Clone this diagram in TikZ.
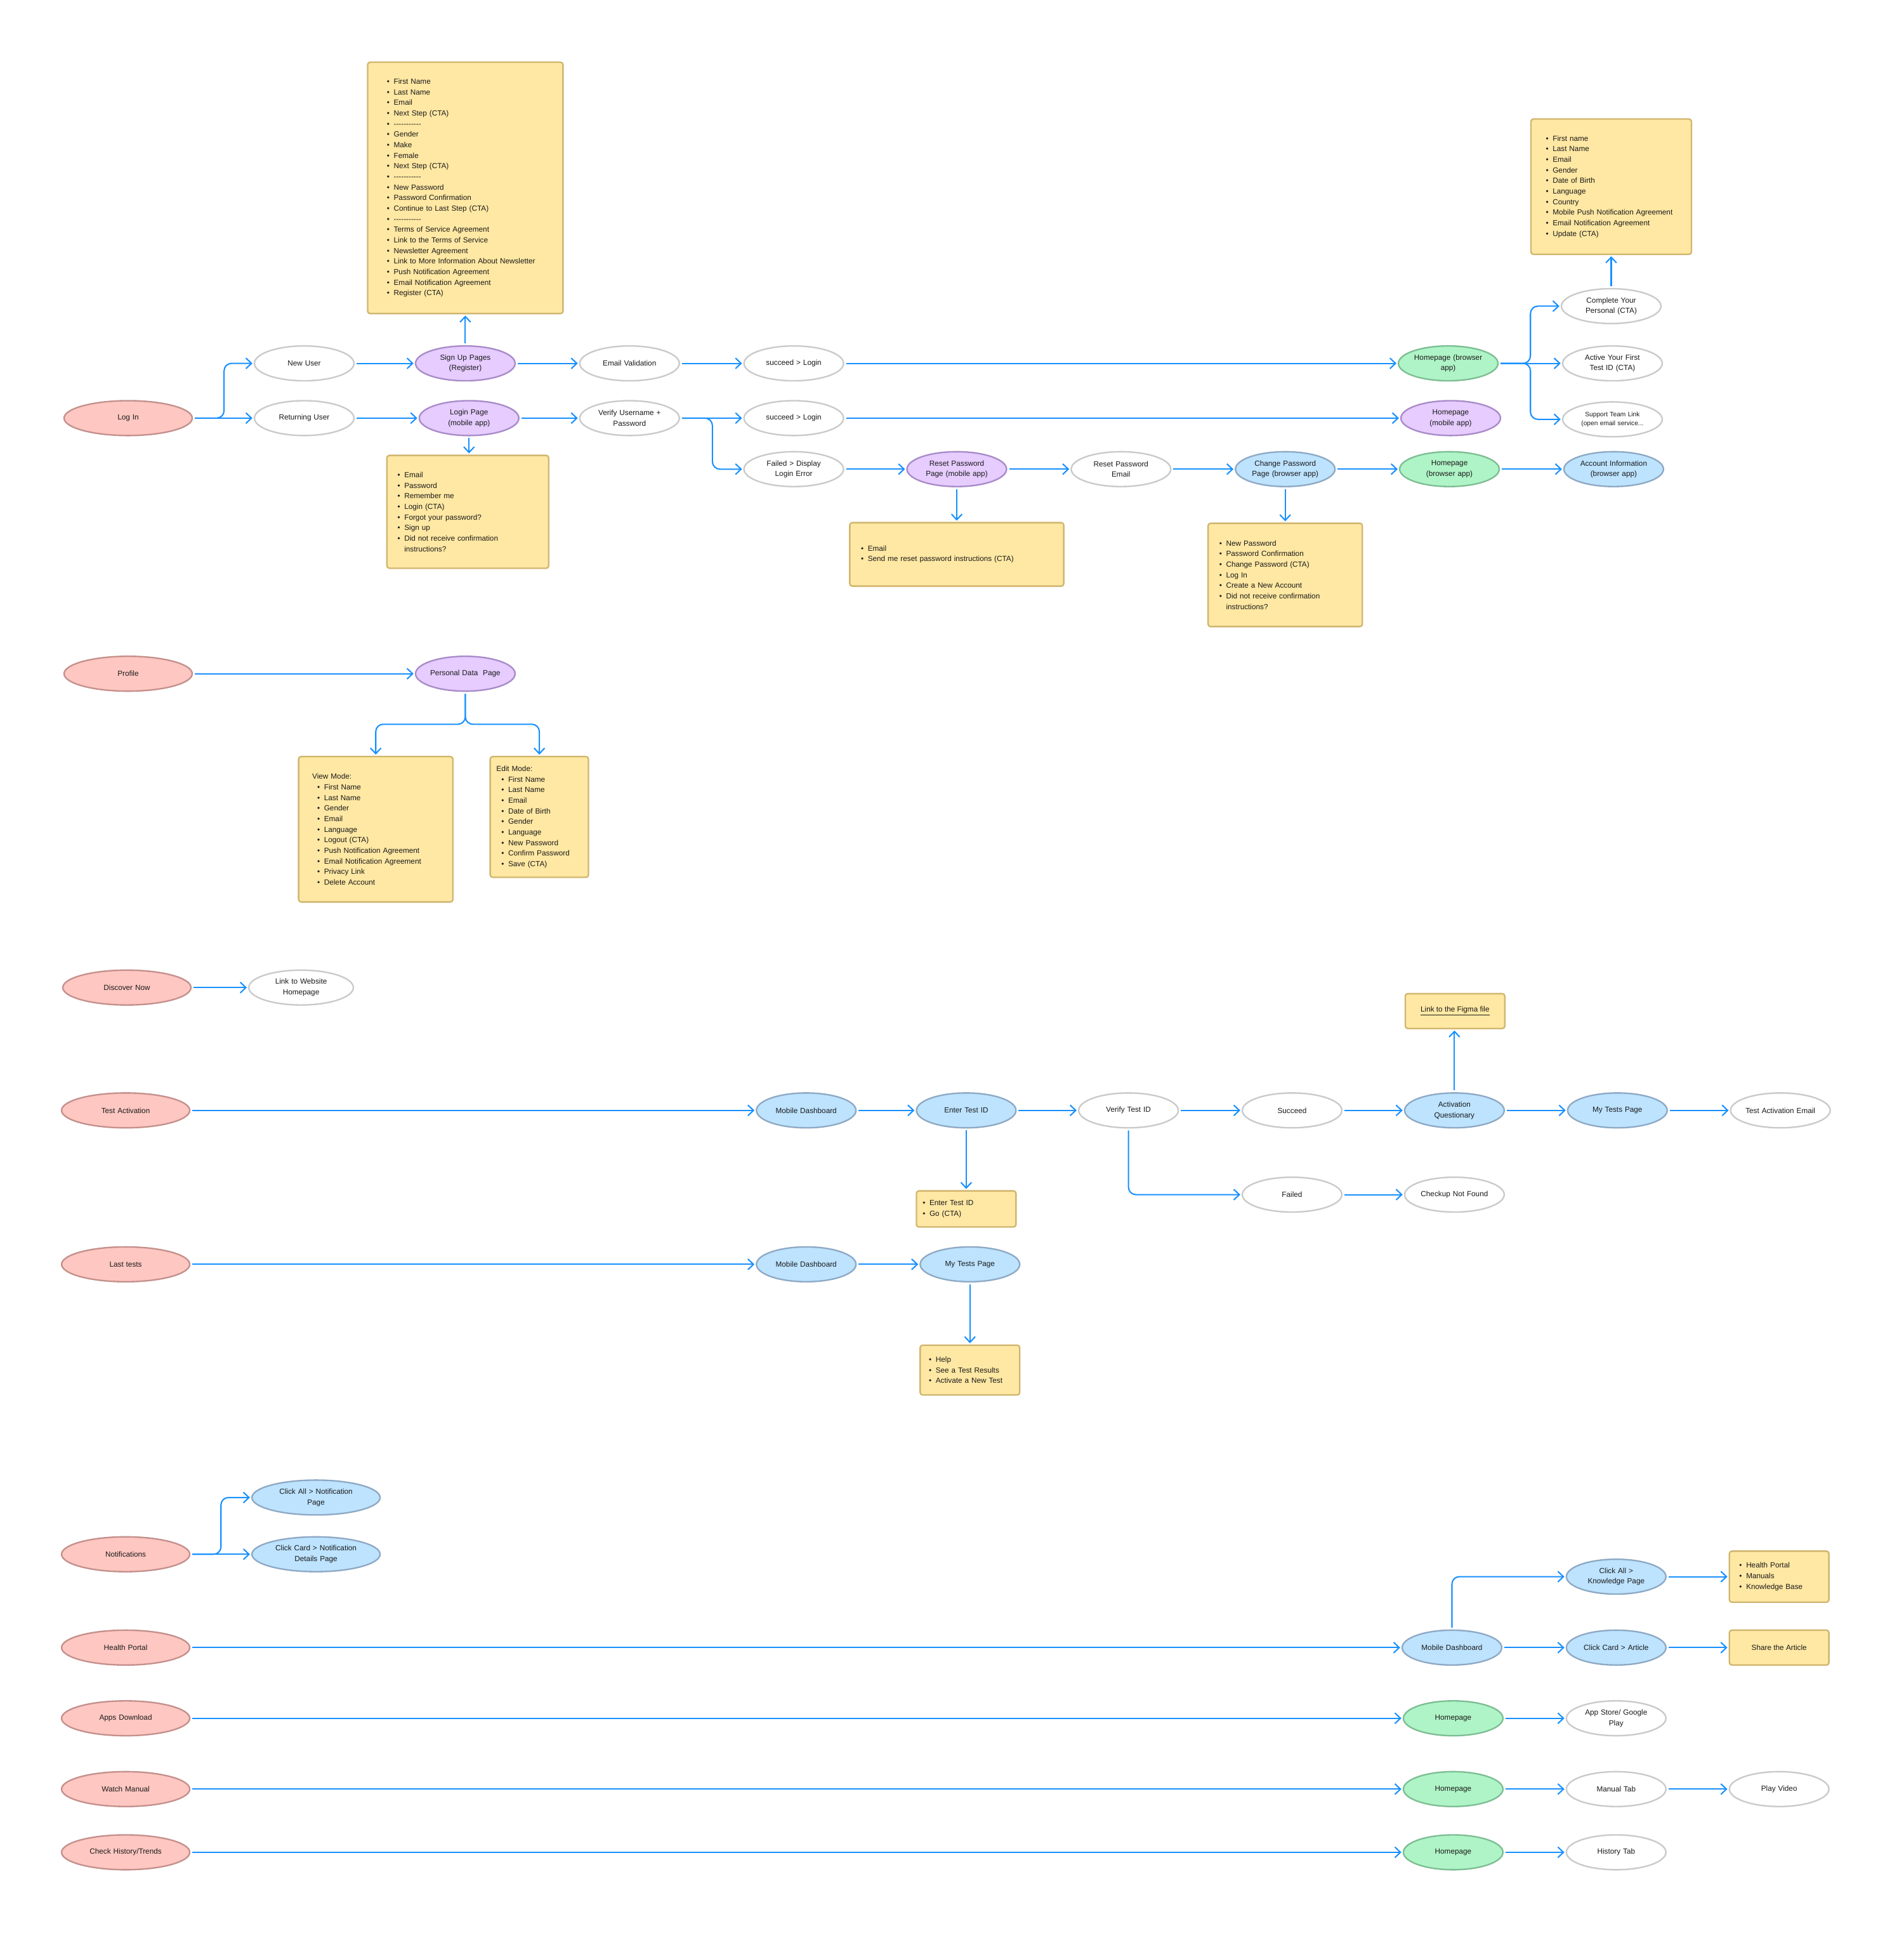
\documentclass[tikz,border=0pt]{standalone}
\usepackage{fontspec}
\setmainfont{Liberation Sans}
\usetikzlibrary{shapes.geometric,arrows.meta}

\definecolor{flowblue}{HTML}{1890FF}
\definecolor{startfill}{HTML}{FFC7C2}
\definecolor{startline}{HTML}{C4908C}
\definecolor{pageline}{HTML}{CACACA}
\definecolor{mobfill}{HTML}{E6CCFF}
\definecolor{mobline}{HTML}{A88BC8}
\definecolor{brfill}{HTML}{AFF4C6}
\definecolor{brline}{HTML}{7DBE94}
\definecolor{appfill}{HTML}{BDE3FF}
\definecolor{appline}{HTML}{8EA9C4}
\definecolor{notefill}{HTML}{FFE8A3}
\definecolor{noteline}{HTML}{D0B66F}
\definecolor{inktext}{HTML}{1A1A1A}

\newcommand{\itm}{\makebox[5.5pt][l]{\textbullet}}
\newcommand{\subitm}{\hspace*{4pt}\itm}
\newcommand{\hyphrule}{-{}-{}-{}-{}-{}-{}-{}-{}-{}-{}-}

\begin{document}
\begin{tikzpicture}[x=1pt,y=-1pt,>={Straight Barb[length=4.5pt,width=8.5pt]},
  every node/.style={font=\fontsize{6}{8.5}\selectfont,text=inktext},
  userstep/.style={ellipse,draw=pageline,fill=white,line width=1.2pt,
    minimum width=80pt,minimum height=28pt,text width=90pt,align=center,
    inner xsep=-30pt,inner ysep=0pt},
  entry/.style={userstep,draw=startline,fill=startfill,minimum width=103pt},
  mobpage/.style={userstep,draw=mobline,fill=mobfill},
  webpage/.style={userstep,draw=brline,fill=brfill},
  apppage/.style={userstep,draw=appline,fill=appfill},
  note/.style={rectangle,rounded corners=2pt,draw=noteline,fill=notefill,
    line width=1.2pt,align=left,inner ysep=0pt},
  flow/.style={->,draw=flowblue,line width=1.05pt,shorten <=1.5pt,shorten >=1pt},
  fork/.style={flow,rounded corners=6pt}]
\useasboundingbox[fill=white] (0,0) rectangle (1530,1563);

% log in
\node[entry] (login) at (103,336) {Log In};
\node[userstep] (newuser) at (244.5,292) {New User};
\node[userstep] (retuser) at (244.5,336) {Returning User};
\node[mobpage] (signup) at (374,292) {Sign Up Pages\\(Register)};
\node[mobpage] (loginpg) at (377,336) {Login Page\\(mobile app)};
\node[userstep] (emailval) at (506,292) {Email Validation};
\node[userstep] (verify) at (506,336) {Verify Username +\\Password};
\node[userstep] (succ1) at (638,292) {succeed > Login};
\node[userstep] (succ2) at (638,336) {succeed > Login};
\node[userstep] (failed) at (638,377) {Failed > Display\\Login Error};
\node[mobpage] (resetpg) at (769,377) {Reset Password\\Page (mobile app)};
\node[userstep] (resetmail) at (901,377) {Reset Password\\Email};
\node[apppage] (changepg) at (1033,377) {Change Password\\Page (browser app)};
\node[webpage] (homebr1) at (1164,292) {Homepage (browser\\app)};
\node[mobpage] (homemob) at (1166,336) {Homepage\\(mobile app)};
\node[webpage] (homebr2) at (1165,377) {Homepage\\(browser app)};
\node[apppage] (accinfo) at (1297,377) {Account Information\\(browser app)};
\node[userstep] (complete) at (1295,246) {Complete Your\\Personal (CTA)};
\node[userstep] (activeid) at (1296,292) {Active Your First\\Test ID (CTA)};
\node[userstep,font=\fontsize{5.2}{7.3}\selectfont] (support) at (1296,337) {Support Team Link\\(open email service...};

\node[note,text width=126pt,inner xsep=15.5pt,minimum height=202pt] (signupbox) at (374,151) {%
\itm First Name\\ \itm Last Name\\ \itm Email\\ \itm Next Step (CTA)\\ \itm \hyphrule\\
\itm Gender\\ \itm Make\\ \itm Female\\ \itm Next Step (CTA)\\ \itm \hyphrule\\
\itm New Password\\ \itm Password Confirmation\\ \itm Continue to Last Step (CTA)\\ \itm \hyphrule\\
\itm Terms of Service Agreement\\ \itm Link to the Terms of Service\\ \itm Newsletter Agreement\\
\itm Link to More Information About Newsletter\\ \itm Push Notification Agreement\\
\itm Email Notification Agreement\\ \itm Register (CTA)};
\node[note,text width=113pt,inner xsep=8.5pt,minimum height=90.7pt] (loginbox) at (376,411.3) {%
\itm Email\\ \itm Password\\ \itm Remember me\\ \itm Login (CTA)\\ \itm Forgot your password?\\
\itm Sign up\\ \itm Did not receive confirmation\\ \hspace*{5.5pt}instructions?};
\node[note,text width=154pt,inner xsep=9pt,minimum height=51pt] (resetbox) at (769,445.5) {%
\itm Email\\ \itm Send me reset password instructions (CTA)};
\node[note,text width=106pt,inner xsep=9pt,minimum height=83pt] (changebox) at (1033,462) {%
\itm New Password\\ \itm Password Confirmation\\ \itm Change Password (CTA)\\ \itm Log In\\
\itm Create a New Account\\ \itm Did not receive confirmation\\ \hspace*{5.5pt}instructions?};
\node[note,text width=105pt,inner xsep=12pt,minimum height=108.7pt] (infobox) at (1295,150) {%
\itm First name\\ \itm Last Name\\ \itm Email\\ \itm Gender\\ \itm Date of Birth\\ \itm Language\\
\itm Country\\ \itm Mobile Push Notification Agreement\\ \itm Email Notification Agreement\\
\itm Update (CTA)};

\draw[fork] (login.east) -- ++(25,0) |- (newuser.west);
\draw[fork] (verify.east) -- ++(26,0) |- (failed.west);
\draw[fork] (homebr1.east) -- ++(25.5,0) |- (complete.west);
\draw[fork] (homebr1.east) -- ++(25.5,0) |- (support.west);
\foreach \a/\b in {login/retuser,newuser/signup,signup/emailval,emailval/succ1,succ1/homebr1,
  retuser/loginpg,loginpg/verify,verify/succ2,succ2/homemob,failed/resetpg,resetpg/resetmail,
  resetmail/changepg,changepg/homebr2,homebr2/accinfo,homebr1/activeid}
  \draw[flow] (\a) -- (\b);
\draw[flow] (signup.north) -- (signup.north |- signupbox.south);
\draw[flow] (loginpg.south) -- (loginpg.south |- loginbox.north);
\draw[flow] (resetpg.south) -- (resetpg.south |- resetbox.north);
\draw[flow] (changepg.south) -- (changepg.south |- changebox.north);
\draw[flow] (complete.north) -- (complete.north |- infobox.south);

% profile
\node[entry] (profile) at (103,541.4) {Profile};
\node[mobpage] (persdata) at (374,541.4) {Personal Data\ \ Page};
\node[note,text width=102pt,inner xsep=11pt,minimum height=116.8pt] (viewbox) at (302,666.4) {%
View Mode:\\ \subitm First Name\\ \subitm Last Name\\ \subitm Gender\\ \subitm Email\\
\subitm Language\\ \subitm Logout (CTA)\\ \subitm Push Notification Agreement\\
\subitm Email Notification Agreement\\ \subitm Privacy Link\\ \subitm Delete Account};
\node[note,text width=69pt,inner xsep=5pt,minimum height=97pt] (editbox) at (433.5,656.5) {%
Edit Mode:\\ \subitm First Name\\ \subitm Last Name\\ \subitm Email\\ \subitm Date of Birth\\
\subitm Gender\\ \subitm Language\\ \subitm New Password\\ \subitm Confirm Password\\
\subitm Save (CTA)};
\draw[flow] (profile) -- (persdata);
\draw[fork] (persdata.south) -- ++(0,26) -| (viewbox.north);
\draw[fork] (persdata.south) -- ++(0,26) -| (editbox.north);

% discover
\node[entry] (discover) at (102,793.6) {Discover Now};
\node[userstep,minimum width=84pt] (linkweb) at (242,793.6) {Link to Website\\Homepage};
\draw[flow] (discover) -- (linkweb);

% test activation
\node[entry] (testact) at (101,892.3) {Test Activation};
\node[apppage] (mdash1) at (648,892.3) {Mobile Dashboard};
\node[apppage] (entertid) at (776.6,892.3) {Enter Test ID};
\node[userstep] (verifytid) at (907,892.3) {Verify Test ID};
\node[userstep] (succeed) at (1038.5,892.3) {Succeed};
\node[apppage] (actq) at (1169,892.3) {Activation\\Questionary};
\node[apppage] (mytests1) at (1300,892.3) {My Tests Page};
\node[userstep] (tamail) at (1431,892.3) {Test Activation Email};
\node[userstep] (failedt) at (1038.5,960) {Failed};
\node[userstep] (checkup) at (1169,960) {Checkup Not Found};
\node[note,align=center,minimum width=80pt,minimum height=28pt] (figmabox) at (1169.5,812.5) {\underline{Link to the Figma file}};
\node[note,text width=70pt,inner xsep=5pt,minimum height=29pt] (enterbox) at (776.6,971.5) {%
\itm Enter Test ID\\ \itm Go (CTA)};
\foreach \a/\b in {testact/mdash1,mdash1/entertid,entertid/verifytid,verifytid/succeed,
  succeed/actq,actq/mytests1,mytests1/tamail,failedt/checkup}
  \draw[flow] (\a) -- (\b);
\draw[fork] (verifytid.south) |- (failedt.west);
\draw[flow] (entertid.south) -- (entertid.south |- enterbox.north);
\draw[flow] (actq.north) -- (actq.north |- figmabox.south);

% last tests
\node[entry] (lasttests) at (101,1016) {Last tests};
\node[apppage] (mdash2) at (648,1016) {Mobile Dashboard};
\node[apppage] (mytests2) at (779.6,1016) {My Tests Page};
\node[note,text width=66pt,inner xsep=7pt,minimum height=40pt] (mytestsbox) at (779.6,1101) {%
\itm Help\\ \itm See a Test Results\\ \itm Activate a New Test};
\draw[flow] (lasttests) -- (mdash2);
\draw[flow] (mdash2) -- (mytests2);
\draw[flow] (mytests2.south) -- (mytests2.south |- mytestsbox.north);

% notifications
\node[entry] (notif) at (101,1249) {Notifications};
\node[apppage,minimum width=103pt] (clickall) at (254,1203.4) {Click All > Notification\\Page};
\node[apppage,minimum width=103pt] (clickcard) at (254,1249) {Click Card > Notification\\Details Page};
\draw[fork] (notif.east) -- ++(24.5,0) |- (clickall.west);
\draw[flow] (notif) -- (clickcard);

% health portal
\node[entry] (health) at (101,1324) {Health Portal};
\node[apppage] (mdash3) at (1167,1324) {Mobile Dashboard};
\node[apppage] (clickknow) at (1299,1267) {Click All >\\Knowledge Page};
\node[apppage] (clickart) at (1299,1324) {Click Card > Article};
\node[note,text width=64pt,inner xsep=8pt,minimum height=41pt] (knowbox) at (1430,1267) {%
\itm Health Portal\\ \itm Manuals\\ \itm Knowledge Base};
\node[note,align=center,minimum width=80pt,minimum height=28pt] (sharebox) at (1430,1324) {Share the Article};
\draw[flow] (health) -- (mdash3);
\draw[fork] (mdash3.north) |- (clickknow.west);
\draw[flow] (mdash3) -- (clickart);
\draw[flow] (clickknow) -- (knowbox);
\draw[flow] (clickart) -- (sharebox);

% downloads, manual, history
\node[entry] (apps) at (101,1380.8) {Apps Download};
\node[webpage] (home1) at (1168,1380.8) {Homepage};
\node[userstep] (appstore) at (1299,1380.8) {App Store/ Google\\Play};
\node[entry] (watch) at (101,1437.7) {Watch Manual};
\node[webpage] (home2) at (1168,1437.7) {Homepage};
\node[userstep] (manualtab) at (1299,1437.7) {Manual Tab};
\node[userstep] (playvideo) at (1430,1437.7) {Play Video};
\node[entry] (history) at (101,1488.5) {Check History/Trends};
\node[webpage] (home3) at (1168,1488.5) {Homepage};
\node[userstep] (histtab) at (1299,1488.5) {History Tab};
\foreach \a/\b in {apps/home1,home1/appstore,watch/home2,home2/manualtab,manualtab/playvideo,
  history/home3,home3/histtab}
  \draw[flow] (\a) -- (\b);
\end{tikzpicture}
\end{document}
